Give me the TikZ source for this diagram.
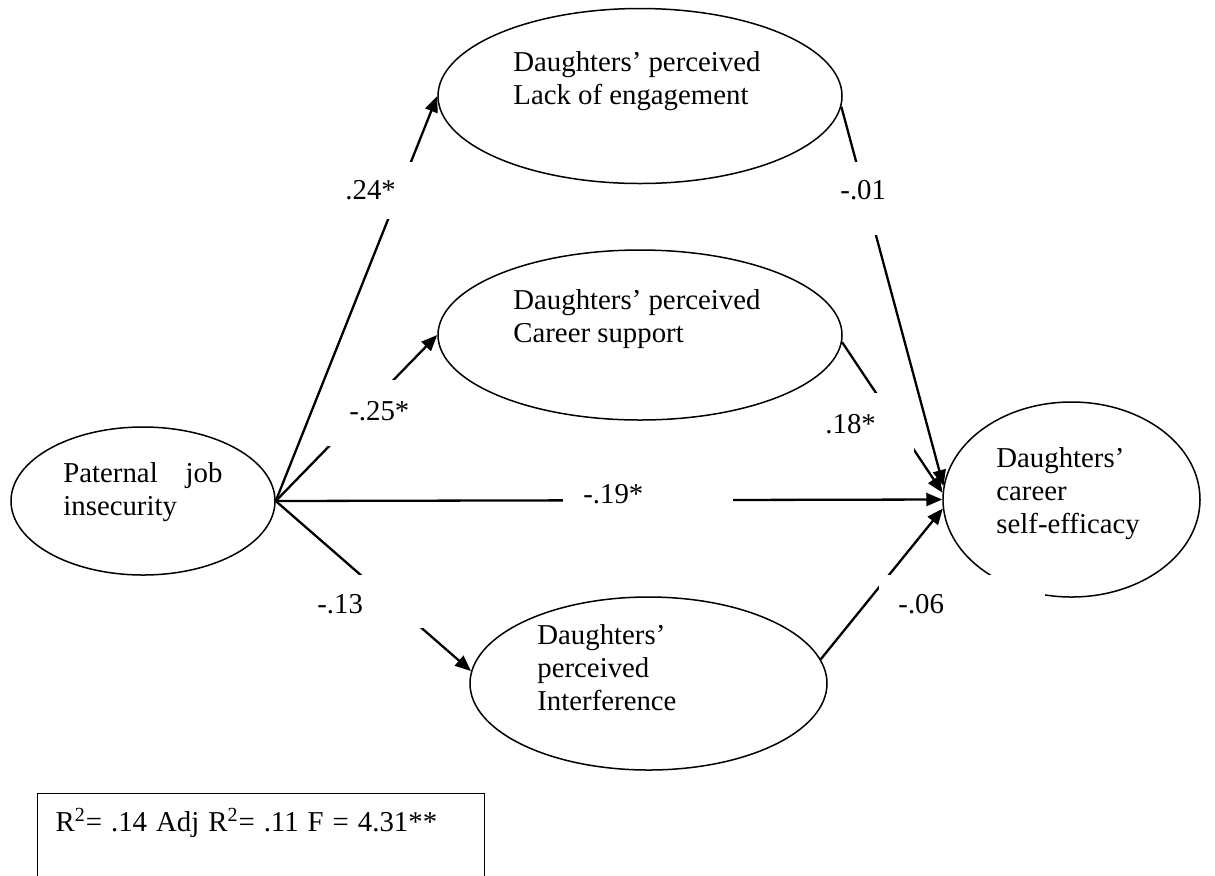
\documentclass[tikz,border=0pt]{standalone}
\usepackage{fontspec}
\setmainfont{Liberation Serif}
\usetikzlibrary{arrows.meta,shapes.geometric}
\tikzset{
  latent/.style={draw,ellipse,line width=0.75pt,inner sep=0pt},
  % multi-line names: the base anchor sits on the last line
  vartext/.style={anchor=base west,align=left,inner sep=0pt,font=\fontsize{14.4}{16.5}\selectfont},
  effect/.style={line width=1.15pt,-{Triangle[length=8pt,width=6.5pt]}},
  % white text box: left padding, text width, height above and depth below the baseline
  coef/.style n args={4}{fill=white,anchor=north west,align=left,inner ysep=0pt,
    inner xsep=#1,text width=#2,text height=#3,text depth=#4,
    font=\fontsize{14.4}{16.5}\selectfont},
}
\begin{document}
\begin{tikzpicture}[x=0.5pt,y=-0.5pt]
\useasboundingbox (0,0) rectangle (1215,875);
\clip (0,0) rectangle (1215,875);

% latent variables
\node[latent,minimum width=132pt,minimum height=74pt]   (pji)  at (143,501)    {};
\node[latent,minimum width=202pt,minimum height=87.5pt] (lack) at (640,96)     {};
\node[latent,minimum width=202pt,minimum height=85pt]   (cs)   at (640,335)    {};
\node[latent,minimum width=178.5pt,minimum height=86.5pt] (intf) at (648.5,683.5) {};
\node[latent,minimum width=128.5pt,minimum height=97.5pt] (se)   at (1071.5,499.5) {};

% variable names
\node[vartext] (pji-t)  at (63,515)  {\makebox[79.5pt][s]{Paternal job}\\insecurity};
\node[vartext] (lack-t) at (513,104) {Daughters’ perceived\\Lack of engagement};
\node[vartext] (cs-t)   at (513,342) {Daughters’ perceived\\Career support};
\node[vartext] (intf-t) at (537,710) {Daughters’\\perceived\\Interference};
\node[vartext] (se-t)   at (996,533) {Daughters’\\career\\self-efficacy};

% paths
\draw[effect] (pji.east) -- (lack.west);
\draw[effect] (pji.east) -- (cs.west);
\draw[effect] (pji.east) -- (se.west);
\draw[effect] (pji.east) -- (intf.176);
\draw[effect] (lack.-3) -- (se.174);
\draw[effect] (cs.-2)   -- (se.177);
\draw[effect] (intf.8)  -- (se.184);

% path coefficients
\node[coef={5pt}{32.5pt}{18.5pt}{10pt}]     (c1) at (335,162) {.24*};
\node[coef={5pt}{25pt}{18.5pt}{18pt}]       (c2) at (830,162) {-.01};
\node[coef={10.5pt}{31pt}{20pt}{13pt}]      (c3) at (328,380) {-.25*};
\node[coef={10pt}{34.5pt}{20pt}{12.5pt}]    (c4) at (805,393) {.18*};
\node[coef={10pt}{65pt}{16.5pt}{13.5pt}]    (c5) at (563,470) {-.19*};
\node[coef={3.5pt}{50.5pt}{19pt}{7.5pt}]    (c6) at (310,575) {-.13};
\node[coef={9.5pt}{64pt}{19pt}{11pt}]       (c7) at (879,575) {-.06};

% model fit
\node[coef={9pt}{205.5pt}{19pt}{40pt},draw,line width=0.7pt] (fit) at (37,793)
  {\spaceskip=4.5pt\mbox{R\textsuperscript{2}= .14 Adj R\textsuperscript{2}= .11 F = 4.31**}};
\end{tikzpicture}
\end{document}
